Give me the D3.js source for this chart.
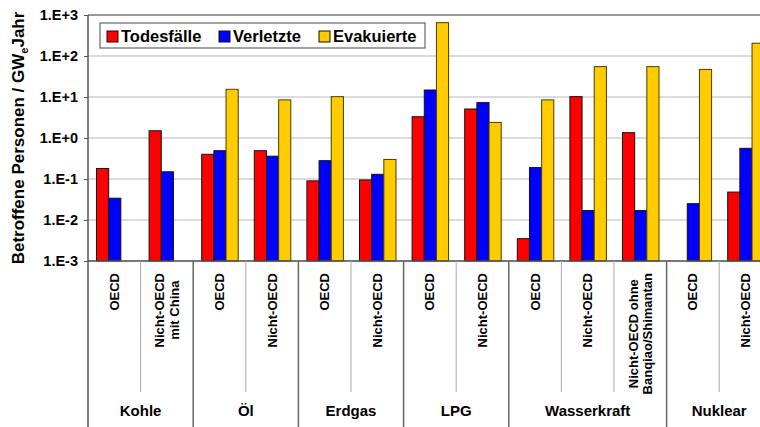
<!DOCTYPE html>
<html lang="de">
<head>
<meta charset="utf-8">
<title>Betroffene Personen</title>
<script src="https://cdn.jsdelivr.net/npm/d3@7"></script>
<style>
  body { margin: 0; background: #fff; }
  svg { display: block; font-family: "Liberation Sans", Arial, sans-serif; font-weight: bold; }
  .yaxis text { font-size: 14.5px; fill: #000; font-weight: bold; }
  .yaxis path { display: none; }
  .yaxis line { stroke: #555; }
</style>
</head>
<body>
<div id="chart"></div>
<script>
// data
var groupNames = ["Kohle", "Öl", "Erdgas", "LPG", "Wasserkraft", "Nuklear"];
var groupOf = [0, 0, 1, 1, 2, 2, 3, 3, 4, 4, 4, 5, 5];
var subLabels = [
  ["OECD"], ["Nicht-OECD", "mit China"],
  ["OECD"], ["Nicht-OECD"],
  ["OECD"], ["Nicht-OECD"],
  ["OECD"], ["Nicht-OECD"],
  ["OECD"], ["Nicht-OECD"], ["Nicht-OECD ohne", "Banqiao/Shimantan"],
  ["OECD"], ["Nicht-OECD"]
];
var seriesNames = ["Todesfälle", "Verletzte", "Evakuierte"];
var todesfaelle = [0.18, 1.5, 0.40, 0.49, 0.09, 0.095, 3.3, 5.1, 0.0035, 10.2, 1.35, null, 0.048];
var verletzte   = [0.034, 0.15, 0.49, 0.36, 0.28, 0.13, 14.8, 7.3, 0.19, 0.017, 0.017, 0.025, 0.56];
var evakuierte  = [null, null, 15.4, 8.5, 10.2, 0.30, 650, 2.4, 8.5, 55, 55, 47, 205];
var yTicks = [1e-3, 1e-2, 1e-1, 1e0, 1e1, 1e2, 1e3];
var yTickLabels = ["1.E-3", "1.E-2", "1.E-1", "1.E+0", "1.E+1", "1.E+2", "1.E+3"];

var colors = ["#ff0000", "#0000ff", "#ffcc00"];
var allSeries = [todesfaelle, verletzte, evakuierte];

var w = 760, h = 427;
var plotLeft = 88, plotTop = 15, plotBottom = 261;
var catW = 52.6;

var svg = d3.select("#chart").append("svg")
  .attr("width", w).attr("height", h);

var idx = d3.range(subLabels.length);
var x = d3.scaleBand().domain(idx)
  .range([plotLeft, plotLeft + catW * idx.length]).padding(0);
var x1 = d3.scaleBand().domain([0, 1, 2]).range([8.5, 45]);
var y = d3.scaleLog().domain([1e-3, 1e3]).range([plotBottom, plotTop]);

// grid
svg.append("g").selectAll("line")
  .data(yTicks).enter().append("line")
  .attr("x1", plotLeft).attr("x2", w)
  .attr("y1", function(d) { return y(d); })
  .attr("y2", function(d) { return y(d); })
  .attr("stroke", function(d) { return d == 1e3 ? "#999" : "#cfcfcf"; })
  .attr("stroke-width", function(d) { return d == 1e3 ? 2 : 1.5; });

// bars
allSeries.forEach(function(vals, s) {
  svg.append("g").selectAll("rect")
    .data(idx.filter(function(i) { return vals[i] != null; }))
    .enter().append("rect")
    .attr("x", function(i) { return x(i) + x1(s); })
    .attr("width", x1.bandwidth())
    .attr("y", function(i) { return y(vals[i]); })
    .attr("height", function(i) { return plotBottom - y(vals[i]); })
    .attr("fill", colors[s])
    .attr("stroke", s == 2 ? "#4a3c00" : "#111")
    .attr("stroke-width", 1);
});

// y axis
var yAxis = d3.axisLeft(y)
  .tickValues(yTicks)
  .tickFormat(function(d, i) { return yTickLabels[i]; })
  .tickSize(4).tickPadding(6);
svg.append("g").attr("class", "yaxis")
  .attr("transform", "translate(" + plotLeft + ",0)")
  .call(yAxis);

svg.append("line")
  .attr("x1", plotLeft).attr("x2", plotLeft).attr("y1", plotTop).attr("y2", h)
  .attr("stroke", "#555").attr("stroke-width", 1.5);
svg.append("line")
  .attr("x1", plotLeft).attr("x2", w).attr("y1", plotBottom).attr("y2", plotBottom)
  .attr("stroke", "#555").attr("stroke-width", 1.5);

// separators below axis
idx.slice(1).forEach(function(i) {
  var newGroup = groupOf[i] != groupOf[i - 1];
  svg.append("line")
    .attr("x1", x(i)).attr("x2", x(i))
    .attr("y1", plotBottom).attr("y2", newGroup ? h : 392)
    .attr("stroke", newGroup ? "#666" : "#aaa")
    .attr("stroke-width", newGroup ? 1.5 : 1);
});

// sub category labels
idx.forEach(function(i) {
  var cx = x(i) + x.bandwidth() / 2;
  var lines = subLabels[i];
  var g = svg.append("g").attr("transform", "translate(" + cx + ",273) rotate(-90)");
  var t = g.append("text").attr("font-size", 13).attr("text-anchor", "middle");
  lines.forEach(function(l, k) {
    t.append("tspan").attr("x", 0)
      .attr("y", (k - (lines.length - 1) / 2) * 14.5)
      .attr("dy", "0.35em").text(l);
  });
  var len = t.node().getBBox().width;
  t.selectAll("tspan").attr("x", -len / 2);
});

// group labels
groupNames.forEach(function(name, gi) {
  var members = idx.filter(function(i) { return groupOf[i] == gi; });
  var x0 = x(members[0]), xe = x(members[members.length - 1]) + x.bandwidth();
  svg.append("text")
    .attr("x", (x0 + xe) / 2).attr("y", 416)
    .attr("text-anchor", "middle").attr("font-size", 15)
    .text(name);
});

// y title
var yt = svg.append("text")
  .attr("transform", "translate(24,138) rotate(-90)")
  .attr("text-anchor", "middle").attr("font-size", 17);
yt.append("tspan").text("Betroffene Personen / GW");
yt.append("tspan").attr("font-size", 11).attr("dy", 4).text("e");
yt.append("tspan").attr("dy", -4).text("Jahr");

// legend
var legX = [107, 219, 319];
var leg = svg.append("g");
leg.append("rect").attr("x", 100).attr("y", 23).attr("width", 325).attr("height", 25)
  .attr("fill", "#fff").attr("stroke", "#666").attr("stroke-width", 1.2);
seriesNames.forEach(function(n, s) {
  leg.append("rect").attr("x", legX[s]).attr("y", 31).attr("width", 11).attr("height", 11)
    .attr("fill", colors[s]).attr("stroke", "#111");
  leg.append("text").attr("x", legX[s] + 14).attr("y", 42)
    .attr("font-size", 16.5).text(n);
});
</script>
</body>
</html>
